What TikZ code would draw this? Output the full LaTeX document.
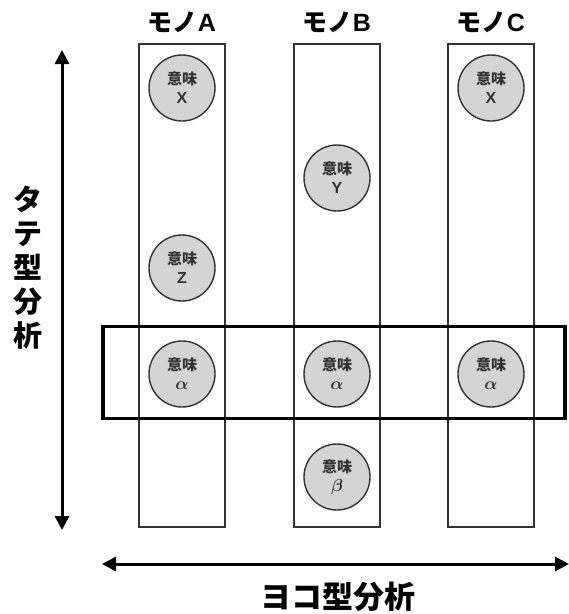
\documentclass[tikz,border=0pt]{standalone}
\usepackage{fontspec}
\newfontfamily\jp{Noto Sans CJK JP}
\newfontfamily\lat{Liberation Sans}
\usetikzlibrary{arrows.meta}
\definecolor{cfill}{HTML}{D4D4D4}
\definecolor{cline}{HTML}{333333}
\tikzset{
  col/.style={draw=cline, line width=1.4pt},
  imi/.style={circle, draw=cline, line width=1.4pt, fill=cfill, minimum size=66pt, inner sep=0pt, align=center, font=\jp\bfseries\fontsize{15}{15}\selectfont, text=cline},
  head/.style={font=\jp\bfseries\fontsize{25}{25}\selectfont},
  band/.style={draw=black, line width=3.6pt},
  axis/.style={line width=3pt, {Triangle[length=14pt,width=14pt]}-{Triangle[length=14pt,width=14pt]}},
}
\newcommand{\ltr}[1]{{\lat\fontsize{16}{16}\selectfont #1}}
\newcommand{\grk}[1]{{\fontsize{18}{18}\selectfont\boldmath$#1$}}
\begin{document}
\begin{tikzpicture}[x=1pt,y=-1pt]
\useasboundingbox[fill=white] (0,0) rectangle (569,614);
% columns
\node[col, minimum width=86pt, minimum height=483pt, inner sep=0pt] (colA) at (182,285.5) {};
\node[col, minimum width=86pt, minimum height=483pt, inner sep=0pt] (colB) at (337,285.5) {};
\node[col, minimum width=86pt, minimum height=483pt, inner sep=0pt] (colC) at (491,285.5) {};
% headings
\node[head] (hA) at (182,22) {モノ{\lat\bfseries A}};
\node[head] (hB) at (337,22) {モノ{\lat\bfseries B}};
\node[head] (hC) at (491,22) {モノ{\lat\bfseries C}};
% circles
\node[imi] (aX) at (182,88) {意味\\[4pt]\ltr{X}};
\node[imi] (aZ) at (182,268) {意味\\[4pt]\ltr{Z}};
\node[imi] (aA) at (182,374) {意味\\[4pt]\grk{\alpha}};
\node[imi] (bY) at (337,178) {意味\\[4pt]\ltr{Y}};
\node[imi] (bA) at (337,374) {意味\\[4pt]\grk{\alpha}};
\node[imi] (bB) at (337,477) {意味\\[4pt]\grk{\beta}};
\node[imi] (cX) at (491,88) {意味\\[4pt]\ltr{X}};
\node[imi] (cA) at (491,374) {意味\\[4pt]\grk{\alpha}};
% horizontal band
\node[band, minimum width=462pt, minimum height=92pt, inner sep=0pt] (band) at (334,372.5) {};
% axes
\coordinate (vt) at (62,50);
\coordinate (vb) at (62,530);
\coordinate (hl) at (102,564);
\coordinate (hr) at (569,564);
\draw[axis] (vt) -- (vb);
\draw[axis] (hl) -- (hr);
% axis labels
\node[font=\jp\bfseries\fontsize{29}{34}\selectfont, align=center] (vlab) at (28,268) {タ\\テ\\型\\分\\析};
\node[font=\jp\bfseries\fontsize{31}{31}\selectfont] (hlab) at (338,597) {ヨコ型分析};
\end{tikzpicture}
\end{document}
